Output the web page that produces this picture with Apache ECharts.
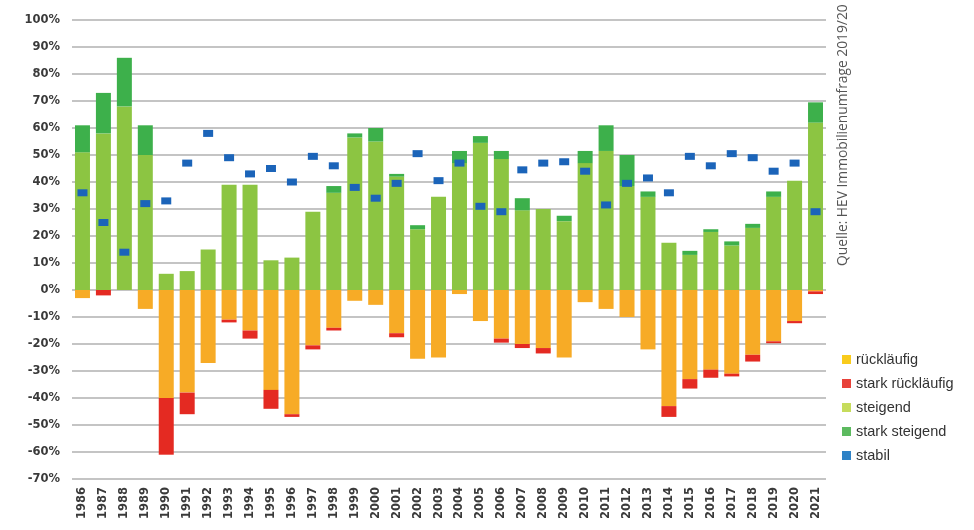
<!DOCTYPE html>
<html>
<head>
<meta charset="utf-8">
<script src="https://cdn.jsdelivr.net/npm/echarts@6/dist/echarts.min.js"></script>
<style>
  html, body { margin: 0; padding: 0; background: #fff; }
  #chart { width: 974px; height: 530px; }
</style>
</head>
<body>
<div id="chart"></div>
<script>
// Survey years
const years = ['1986','1987','1988','1989','1990','1991','1992','1993','1994','1995','1996','1997',
  '1998','1999','2000','2001','2002','2003','2004','2005','2006','2007','2008','2009',
  '2010','2011','2012','2013','2014','2015','2016','2017','2018','2019','2020','2021'];

// Shares of answers in percent
const steigend = [51,58,68,50,6,7,15,39,39,11,12,29,
  36,56.5,55,42,22.5,34.5,47,54.5,48.5,29.5,30,25.5,
  47,51.5,38.5,34.5,17.5,13,21.5,16.5,23,34.5,40.5,62];
const starkSteigend = [10,15,18,11,0,0,0,0,0,0,0,0,
  2.5,1.5,5,1,1.5,0,4.5,2.5,3,4.5,0,2,
  4.5,9.5,11.5,2,0,1.5,1,1.5,1.5,2,0,7.5];
const rueckl = [3,0,0,7,40,38,27,11,15,37,46,20.5,
  14,4,5.5,16,25.5,25,1.5,11.5,18,20,21.5,25,
  4.5,7,10,22,43,33,29.5,31,24,19,11.5,0.5];
const starkRueckl = [0,2,0,0,21,8,0,1,3,7,1,1.5,
  1,0,0,1.5,0,0,0,0,1.5,1.5,2,0,
  0,0,0,0,4,3.5,3,1,2.5,0.7,0.8,1];
const stabil = [36,25,14,32,33,47,58,49,43,45,40,49.5,
  46,38,34,39.5,50.5,40.5,47,31,29,44.5,47,47.5,
  44,31.5,39.5,41.5,36,49.5,46,50.5,49,44,47,29];

const yTicks = { min: -70, max: 100, step: 10 };

const colors = {
  rueckl: '#f7ab26',
  starkRueckl: '#e42a22',
  steigend: '#8cc542',
  starkSteigend: '#3db04b',
  stabil: '#1b64b9'
};
const legendColors = {
  rueckl: '#f9cb1c',
  starkRueckl: '#e8423a',
  steigend: '#c6dc5c',
  starkSteigend: '#5cba5f',
  stabil: '#2e82c6'
};

const neg = arr => arr.map(v => -v);

const chart = echarts.init(document.getElementById('chart'), null, { renderer: 'canvas' });

const barBase = {
  type: 'bar',
  stack: 'antworten',
  stackStrategy: 'samesign',
  barWidth: 15,
  emphasis: { disabled: true }
};

chart.setOption({
  animation: false,
  backgroundColor: '#ffffff',
  grid: { left: 72, right: 148, top: 20, bottom: 51 },
  xAxis: {
    type: 'category',
    data: years,
    axisLine: { show: false },
    axisTick: { show: false },
    axisLabel: {
      rotate: 90,
      interval: 0,
      margin: 8,
      fontFamily: 'DejaVu Sans',
      fontWeight: 'bold',
      fontSize: 11.5,
      color: '#3a3a3a'
    }
  },
  yAxis: {
    type: 'value',
    min: yTicks.min,
    max: yTicks.max,
    interval: yTicks.step,
    axisLine: { show: false },
    axisTick: { show: false },
    splitLine: { lineStyle: { color: '#c4c4c4', width: 2 } },
    axisLabel: {
      formatter: '{value}%',
      margin: 12,
      fontFamily: 'DejaVu Sans',
      fontWeight: 'bold',
      fontSize: 11.5,
      color: '#3a3a3a'
    }
  },
  legend: {
    orient: 'vertical',
    left: 837,
    top: 347,
    itemWidth: 9,
    itemHeight: 9,
    itemGap: 9,
    textStyle: { fontFamily: 'Liberation Sans', fontSize: 14.5, color: '#333' },
    data: [
      { name: 'rückläufig', icon: 'rect', itemStyle: { color: legendColors.rueckl } },
      { name: 'stark rückläufig', icon: 'rect', itemStyle: { color: legendColors.starkRueckl } },
      { name: 'steigend', icon: 'rect', itemStyle: { color: legendColors.steigend } },
      { name: 'stark steigend', icon: 'rect', itemStyle: { color: legendColors.starkSteigend } },
      { name: 'stabil', icon: 'rect', itemStyle: { color: legendColors.stabil } }
    ]
  },
  graphic: [{
    type: 'text',
    x: 836,
    y: 266,
    rotation: Math.PI / 2,
    style: {
      text: 'Quelle: HEV Immobilienumfrage 2019/20',
      fontFamily: 'Open Sans',
      fontSize: 13.8,
      fill: '#555'
    }
  }],
  series: [
    Object.assign({}, barBase, { name: 'rückläufig', data: neg(rueckl), itemStyle: { color: colors.rueckl } }),
    Object.assign({}, barBase, { name: 'stark rückläufig', data: neg(starkRueckl), itemStyle: { color: colors.starkRueckl } }),
    Object.assign({}, barBase, { name: 'steigend', data: steigend, itemStyle: { color: colors.steigend } }),
    Object.assign({}, barBase, { name: 'stark steigend', data: starkSteigend, itemStyle: { color: colors.starkSteigend } }),
    {
      name: 'stabil',
      type: 'scatter',
      data: stabil,
      symbol: 'rect',
      symbolSize: [10, 7],
      itemStyle: { color: colors.stabil, opacity: 1 },
      z: 5,
      emphasis: { disabled: true }
    }
  ]
});
</script>
</body>
</html>
